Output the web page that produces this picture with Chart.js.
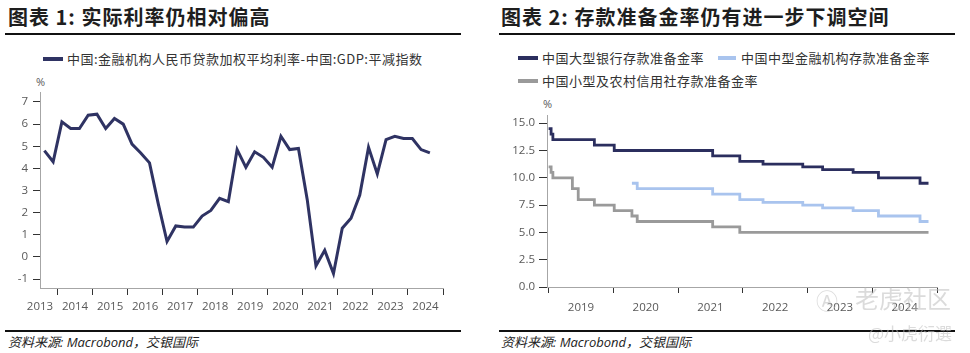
<!DOCTYPE html>
<html>
<head>
<meta charset="utf-8">
<script src="https://cdn.jsdelivr.net/npm/chart.js@4.4.0/dist/chart.umd.min.js"></script>
<style>
  body { margin: 0; background: #fff; }
  #page { position: relative; width: 970px; height: 353px; overflow: hidden; background: #fff; }
  .ttl { position: absolute; top: 4px; line-height: 26px; font-family: "Noto Sans CJK SC"; font-weight: bold;
         font-size: 20px; letter-spacing: 1px; color: #1e1e1e; white-space: nowrap; }
  .rule { position: absolute; height: 1.5px; background: #111; }
  .leg { position: absolute; line-height: 16px; font-family: "Noto Sans CJK SC"; font-size: 13px;
         letter-spacing: 0.5px; color: #333; white-space: nowrap; }
  .leg i { position: absolute; height: 4px; }
  .unit { position: absolute; font-family: "Open Sans"; font-size: 11px; color: #595959; line-height: 14px; }
  .src { position: absolute; top: 334px; line-height: 16px; font-family: "Open Sans", "Noto Sans CJK SC";
         font-style: italic; font-size: 13px; color: #222; white-space: nowrap; }
  .wm { position: absolute; font-family: "Noto Sans CJK SC"; color: rgba(190,190,190,0.55); white-space: nowrap; }
  canvas { position: absolute; }
</style>
</head>
<body>
<div id="page">
  <div class="ttl" style="left:8px">图表 1: 实际利率仍相对偏高</div>
  <div class="rule" style="left:5px; top:33px; width:456px"></div>
  <div class="ttl" style="left:501px">图表 2: 存款准备金率仍有进一步下调空间</div>
  <div class="rule" style="left:499px; top:33px; width:456px"></div>

  <div class="leg" style="left:67px; top:51px"><i style="left:-24px; top:6px; width:20px; background:#2f3363"></i>中国:金融机构人民币贷款加权平均利率-中国:GDP:平减指数</div>
  <div class="leg" style="left:542px; top:50px"><i style="left:-24px; top:6px; width:20px; background:#2b2e5e"></i>中国大型银行存款准备金率</div>
  <div class="leg" style="left:741px; top:50px"><i style="left:-23px; top:6px; width:18px; background:#a9c4ee"></i>中国中型金融机构存款准备金率</div>
  <div class="leg" style="left:542px; top:73px"><i style="left:-24px; top:6px; width:20px; background:#9a9a9a"></i>中国小型及农村信用社存款准备金率</div>

  <div class="unit" style="left:36px; top:75px">%</div>
  <div class="unit" style="left:543px; top:97px">%</div>

  <canvas id="chart1" width="470" height="250" style="left:0; top:70px"></canvas>
  <canvas id="chart2" width="485" height="235" style="left:485px; top:90px"></canvas>

  <div class="rule" style="left:5px; top:330px; width:456px"></div>
  <div class="rule" style="left:499px; top:330px; width:456px"></div>
  <div class="src" style="left:8px">资料来源: Macrobond，交银国际</div>
  <div class="src" style="left:501px">资料来源: Macrobond，交银国际</div>

  <div class="wm" style="left:816px; top:283px; font-size:22px">&#x24B6;</div>
  <div class="wm" style="left:855px; top:280px; font-size:24px; letter-spacing:0px">老虎社区</div>
  <div class="wm" style="left:868px; top:320px; font-size:17px">@小虎衍選</div>
</div>
<script>
// ---- chart 1: real lending rate, quarterly
const rateQuarters = ['2013Q3','2013Q4','2014Q1','2014Q2','2014Q3','2014Q4','2015Q1','2015Q2','2015Q3','2015Q4',
  '2016Q1','2016Q2','2016Q3','2016Q4','2017Q1','2017Q2','2017Q3','2017Q4','2018Q1','2018Q2','2018Q3','2018Q4',
  '2019Q1','2019Q2','2019Q3','2019Q4','2020Q1','2020Q2','2020Q3','2020Q4','2021Q1','2021Q2','2021Q3','2021Q4',
  '2022Q1','2022Q2','2022Q3','2022Q4','2023Q1','2023Q2','2023Q3','2023Q4','2024Q1','2024Q2','2024Q3'];
const realRate = [4.8, 4.3, 6.1, 5.8, 5.8, 6.4, 6.45, 5.8, 6.25, 6.0,
  5.1, 4.7, 4.25, 2.4, 0.7, 1.4, 1.35, 1.35, 1.85, 2.1, 2.65, 2.5,
  4.85, 4.05, 4.75, 4.5, 4.05, 5.45, 4.85, 4.9, 2.6, -0.4, 0.3, -0.75,
  1.3, 1.75, 2.8, 4.95, 3.75, 5.3, 5.45, 5.35, 5.35, 4.85, 4.7];
const rateYears = ['2013','2014','2015','2016','2017','2018','2019','2020','2021','2022','2023','2024'];
const rateTicks = [-1, 0, 1, 2, 3, 4, 5, 6, 7];

// ---- chart 2: reserve requirement ratios (date of change, new level)
const largeDates = ['2019-01-01','2019-01-15','2019-01-25','2019-09-16','2020-01-06','2021-07-15','2021-12-15',
  '2022-04-25','2022-12-05','2023-03-27','2023-09-15','2024-02-05','2024-09-27','2024-11-14'];
const largeRRR = [14.5, 14.0, 13.5, 13.0, 12.5, 12.0, 11.5, 11.25, 11.0, 10.75, 10.5, 10.0, 9.5, 9.5];
const mediumDates = ['2020-04-15','2020-05-15','2021-07-15','2021-12-15','2022-04-25','2022-12-05','2023-03-27',
  '2023-09-15','2024-02-05','2024-09-27','2024-11-14'];
const mediumRRR = [9.5, 9.0, 8.5, 8.0, 7.75, 7.5, 7.25, 7.0, 6.5, 6.0, 6.0];
const smallDates = ['2019-01-01','2019-01-15','2019-01-25','2019-05-15','2019-06-17','2019-09-16','2020-01-06',
  '2020-04-15','2020-05-15','2021-07-15','2021-12-15','2024-11-14'];
const smallRRR = [11.0, 10.5, 10.0, 9.0, 8.0, 7.5, 7.0, 6.5, 6.0, 5.5, 5.0, 5.0];
const rrrYears = ['2019','2020','2021','2022','2023','2024'];
const rrrTicks = [0, 2.5, 5, 7.5, 10, 12.5, 15];

function quarterPos(q) {
  return Number(q.slice(0, 4)) + (Number(q.slice(5)) - 1) * 0.25 + 0.125;
}
function datePos(d) {
  var y = Number(d.slice(0, 4));
  var t = Date.UTC(y, Number(d.slice(5, 7)) - 1, Number(d.slice(8, 10)));
  var a = Date.UTC(y, 0, 1), b = Date.UTC(y + 1, 0, 1);
  return y + (t - a) / (b - a);
}
function toPoints(xs, ys, f) {
  return xs.map(function (x, i) { return { x: f(x), y: ys[i] }; });
}

var tickFont = { family: 'Open Sans', size: 11.5 };
var tickGray = '#595959';

new Chart(document.getElementById('chart1'), {
  type: 'line',
  data: {
    datasets: [{
      data: toPoints(rateQuarters, realRate, quarterPos),
      borderColor: '#2f3363',
      borderWidth: 3,
      pointRadius: 0,
      tension: 0
    }]
  },
  options: {
    responsive: false,
    animation: false,
    layout: { padding: { left: 0, right: 27, top: 22, bottom: 0 } },
    plugins: { legend: { display: false }, tooltip: { enabled: false } },
    scales: {
      x: {
        type: 'linear', min: 2013.5, max: 2025,
        afterBuildTicks: function (s) { s.ticks = rateYears.map(function (y) { return { value: Number(y) + 0.5 }; }); },
        afterFit: function (s) { s.height = 32; },
        ticks: { autoSkip: false, maxRotation: 0, padding: 5, font: tickFont, color: tickGray,
          callback: function (v, i) { return rateYears[i]; } },
        grid: { offset: true, drawOnChartArea: false, tickLength: 7, tickColor: '#333' },
        border: { color: '#a6a6a6', width: 1 }
      },
      y: {
        min: -1.4, max: 7.45,
        afterBuildTicks: function (s) { s.ticks = rateTicks.map(function (v) { return { value: v }; }); },
        afterFit: function (s) { s.width = 40; },
        ticks: { padding: 5, font: tickFont, color: tickGray, callback: function (v) { return v; } },
        grid: { drawOnChartArea: false, tickLength: 7, tickColor: '#333' },
        border: { color: '#a6a6a6', width: 1 }
      }
    }
  }
});

new Chart(document.getElementById('chart2'), {
  type: 'line',
  data: {
    datasets: [
      { data: toPoints(largeDates, largeRRR, datePos), borderColor: '#2b2e5e', borderWidth: 2.8, pointRadius: 0, stepped: 'before' },
      { data: toPoints(mediumDates, mediumRRR, datePos), borderColor: '#a9c4ee', borderWidth: 2.8, pointRadius: 0, stepped: 'before' },
      { data: toPoints(smallDates, smallRRR, datePos), borderColor: '#9a9a9a', borderWidth: 2.8, pointRadius: 0, stepped: 'before' }
    ]
  },
  options: {
    responsive: false,
    animation: false,
    layout: { padding: { left: 0, right: 33, top: 25, bottom: 0 } },
    plugins: { legend: { display: false }, tooltip: { enabled: false } },
    scales: {
      x: {
        type: 'linear', min: 2018.975, max: 2025,
        afterBuildTicks: function (s) { s.ticks = rrrYears.map(function (y) { return { value: Number(y) + 0.5 }; }); },
        afterFit: function (s) { s.height = 38; },
        ticks: { autoSkip: false, maxRotation: 0, padding: 8, font: tickFont, color: tickGray,
          callback: function (v, i) { return rrrYears[i]; } },
        grid: { offset: true, drawOnChartArea: false, tickLength: 6, tickColor: '#333' },
        border: { color: '#a6a6a6', width: 1 }
      },
      y: {
        min: 0, max: 15.75,
        afterBuildTicks: function (s) { s.ticks = rrrTicks.map(function (v) { return { value: v }; }); },
        afterFit: function (s) { s.width = 62; },
        ticks: { padding: 4, font: tickFont, color: tickGray, callback: function (v) { return v.toFixed(1); } },
        grid: { drawOnChartArea: false, tickLength: 8, tickColor: '#333' },
        border: { color: '#a6a6a6', width: 1 }
      }
    }
  }
});
</script>
</body>
</html>
